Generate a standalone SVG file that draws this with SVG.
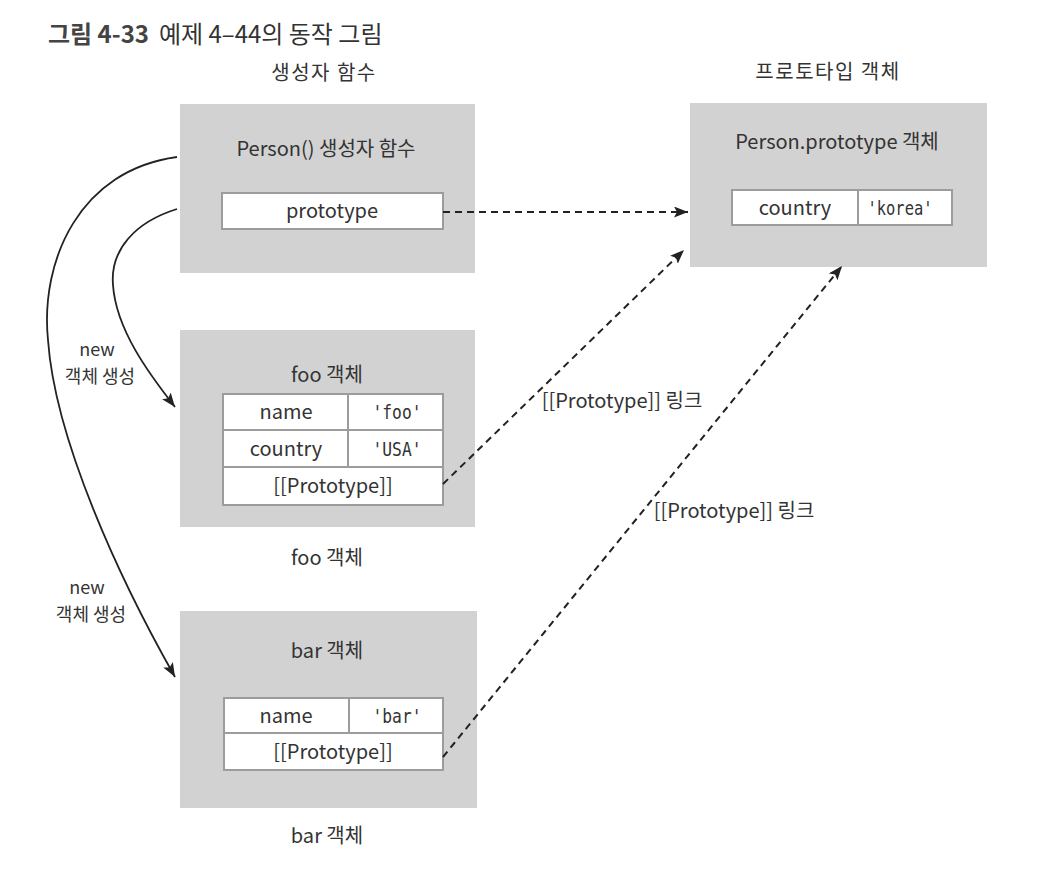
<svg xmlns="http://www.w3.org/2000/svg" width="1040" height="880" viewBox="0 0 1040 880">
<style>
text{font-family:"Noto Sans CJK KR","Noto Sans","Liberation Sans",sans-serif;fill:#333;font-size:20px;text-anchor:middle}
.title{font-size:24px;text-anchor:start}
.b{font-weight:bold;fill:#444}
.hdr{letter-spacing:1.5px}
.lbl{font-size:18px}
.mono{font-family:"DejaVu Sans Mono","Liberation Mono",monospace;font-size:20px}
.box{fill:#d2d2d2}
.cell{fill:#fff;stroke:#9c9c9c;stroke-width:2}
.solid{fill:none;stroke:#222;stroke-width:1.8}
.dash{fill:none;stroke:#222;stroke-width:2;stroke-dasharray:7 5}
</style>
<defs>
<marker id="ah" markerUnits="userSpaceOnUse" markerWidth="16" markerHeight="12" refX="14" refY="5.5" orient="auto">
<path d="M0,0 L14,5.5 L0,11 L3,5.5 z" fill="#222"/>
</marker>
</defs>
<rect width="1040" height="880" fill="#fff"/>
<text class="title" x="48" y="43"><tspan class="b">그림 4-33</tspan><tspan dx="10">예제 4–44의 동작 그림</tspan></text>
<text class="hdr" x="324" y="80">생성자 함수</text>
<text class="hdr" x="828" y="79">프로토타입 객체</text>

<g id="person">
<rect class="box" x="180" y="104" width="295" height="169"/>
<text x="326" y="156">Person() 생성자 함수</text>
<rect class="cell" x="222" y="193" width="221" height="36"/>
<text x="332" y="218">prototype</text>
</g>

<g id="proto">
<rect class="box" x="690" y="103" width="297" height="164"/>
<text x="837" y="149">Person.prototype 객체</text>
<rect class="cell" x="732" y="190" width="126" height="35"/>
<rect class="cell" x="858" y="190" width="94" height="35"/>
<text x="795" y="215">country</text>
<text class="mono" x="900" y="215" textLength="65" lengthAdjust="spacingAndGlyphs">'korea'</text>
</g>

<g id="foo">
<rect class="box" x="180" y="330" width="295" height="197"/>
<text x="327" y="382">foo 객체</text>
<rect class="cell" x="223" y="394" width="125" height="36"/>
<rect class="cell" x="348" y="394" width="95" height="36"/>
<rect class="cell" x="223" y="430" width="125" height="37"/>
<rect class="cell" x="348" y="430" width="95" height="37"/>
<rect class="cell" x="223" y="467" width="220" height="38"/>
<text x="286" y="419">name</text>
<text class="mono" x="397" y="419" textLength="49" lengthAdjust="spacingAndGlyphs">'foo'</text>
<text x="286" y="456">country</text>
<text class="mono" x="397" y="456" textLength="49" lengthAdjust="spacingAndGlyphs">'USA'</text>
<text x="333" y="493">[[Prototype]]</text>
<text x="327" y="565">foo 객체</text>
</g>

<g id="bar">
<rect class="box" x="180" y="611" width="297" height="197"/>
<text x="327" y="658">bar 객체</text>
<rect class="cell" x="224" y="698" width="125" height="35"/>
<rect class="cell" x="349" y="698" width="94" height="35"/>
<rect class="cell" x="224" y="733" width="219" height="37"/>
<text x="286" y="723">name</text>
<text class="mono" x="397" y="723" textLength="49" lengthAdjust="spacingAndGlyphs">'bar'</text>
<text x="333" y="759">[[Prototype]]</text>
<text x="327" y="843">bar 객체</text>
</g>

<g id="connectors">
<path class="solid" d="M177,157 C80,170 40,260 48,340 C55,440 120,580 175,677" marker-end="url(#ah)"/>
<path class="solid" d="M177,209 C135,222 110,250 113,285 C116,330 150,375 175,407" marker-end="url(#ah)"/>
<path class="dash" d="M443,212 L688,212" marker-end="url(#ah)"/>
<path class="dash" d="M443,484 L684,250" marker-end="url(#ah)"/>
<path class="dash" d="M443,757 L842,266" marker-end="url(#ah)"/>
<text class="lbl" x="97" y="356">new</text>
<text class="lbl" x="100" y="383">객체 생성</text>
<text class="lbl" x="87" y="594">new</text>
<text class="lbl" x="91" y="621">객체 생성</text>
<text x="622" y="408">[[Prototype]] 링크</text>
<text x="734" y="518">[[Prototype]] 링크</text>
</g>
</svg>
